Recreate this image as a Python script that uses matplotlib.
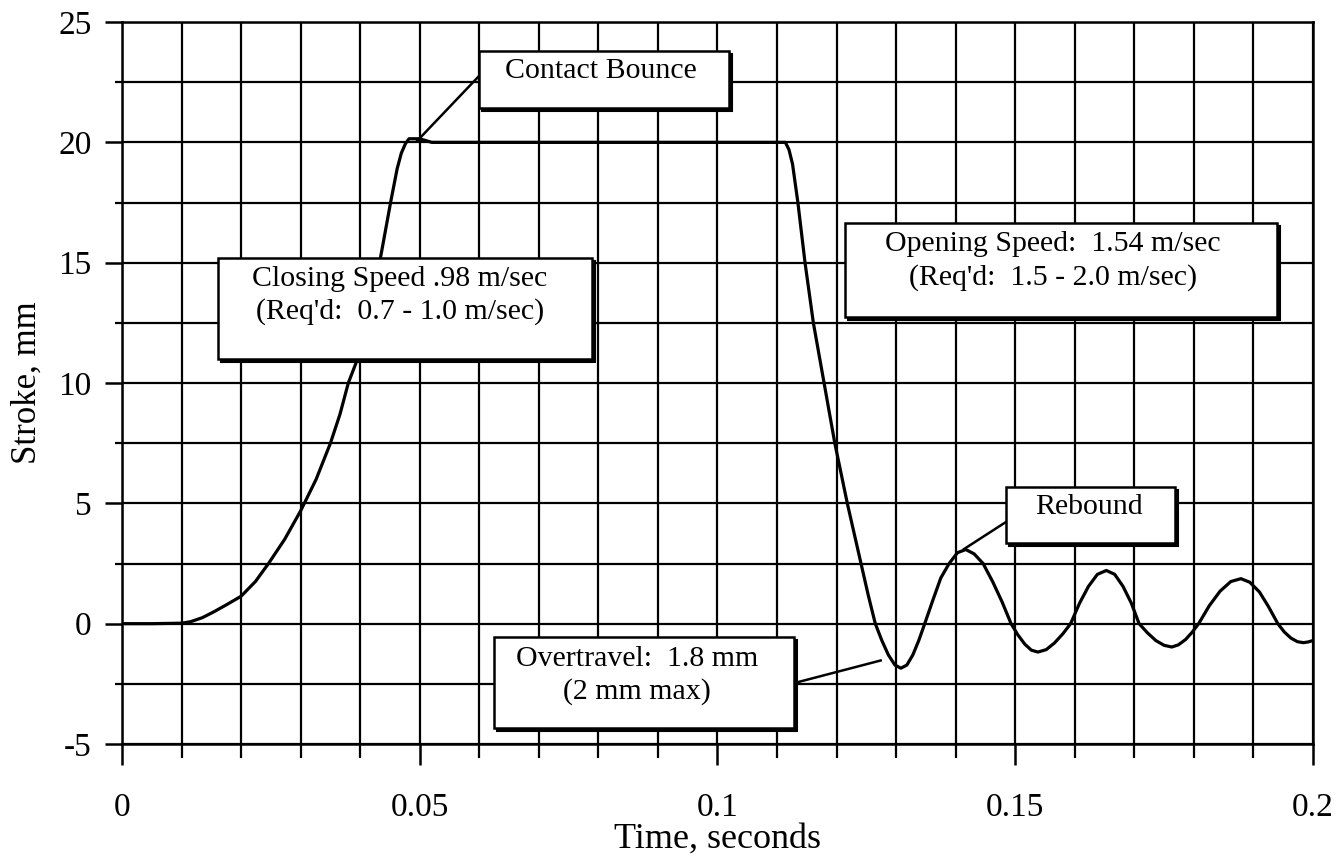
import numpy as np
import matplotlib.pyplot as plt
from matplotlib.patches import Rectangle
from matplotlib import transforms

# Curso do contato (leitura do grafico original)
time_s = [0.000, 0.005, 0.010, 0.0115, 0.0135, 0.0154, 0.0175, 0.020, 0.0224, 0.0246,
          0.0273, 0.030, 0.0326, 0.035, 0.0366, 0.038, 0.0394, 0.0407, 0.0420, 0.0434,
          0.0451, 0.0462, 0.0469, 0.0476, 0.0482, 0.0500, 0.0520,
          0.1103, 0.1114, 0.1120, 0.1126, 0.1135, 0.1147, 0.1161, 0.1179, 0.1197, 0.1218,
          0.1241, 0.1253, 0.1265,
          0.1276, 0.1287, 0.1298, 0.1308, 0.1318, 0.1328, 0.1338, 0.1348,
          0.1362, 0.1375, 0.1389, 0.1403, 0.1417, 0.1431, 0.1446, 0.1462, 0.1478, 0.1493,
          0.1504, 0.1516, 0.1527, 0.1538, 0.1552, 0.1566, 0.1580, 0.1593,
          0.1608, 0.1623, 0.1638, 0.1653, 0.1667, 0.1681, 0.1695, 0.1708,
          0.1722, 0.1736, 0.1750, 0.1763, 0.1774, 0.1786, 0.1797, 0.1808,
          0.1826, 0.1844, 0.1862, 0.1879, 0.1894, 0.1910, 0.1925, 0.1941,
          0.1952, 0.1963, 0.1974, 0.1984, 0.1992, 0.2000]
stroke_mm = [0.00, 0.00, 0.02, 0.08, 0.25, 0.49, 0.78, 1.14, 1.75, 2.50,
             3.50, 4.69, 6.00, 7.50, 8.70, 10.00, 10.90, 12.30, 13.70, 15.20,
             17.50, 18.90, 19.55, 19.95, 20.15, 20.15, 20.00,
             20.00, 20.00, 19.70, 19.10, 17.50, 15.00, 12.50, 10.00, 7.50, 5.00,
             2.50, 1.20, 0.00,
             -0.70, -1.30, -1.72, -1.85, -1.72, -1.30, -0.70, 0.00,
             1.00, 1.90, 2.50, 2.95, 3.08, 2.90, 2.50, 1.75, 0.90, 0.00,
             -0.45, -0.85, -1.10, -1.18, -1.08, -0.80, -0.42, 0.00,
             0.85, 1.55, 2.05, 2.21, 2.05, 1.55, 0.85, 0.00,
             -0.38, -0.70, -0.90, -0.97, -0.88, -0.66, -0.36, 0.00,
             0.75, 1.35, 1.75, 1.87, 1.72, 1.32, 0.72, 0.00,
             -0.35, -0.60, -0.75, -0.79, -0.76, -0.70]

x_ticks = [0, 0.05, 0.1, 0.15, 0.2]
x_tick_labels = ['0', '0.05', '0.1', '0.15', '0.2']
y_ticks = [-5, 0, 5, 10, 15, 20, 25]
y_tick_labels = ['-5', '0', '5', '10', '15', '20', '25']

# Caixas de texto: texto, (x0, x1, y0, y1), centro do texto, linha de chamada
notes = [
    ('Contact Bounce', (0.0600, 0.1020, 21.41, 23.81), (0.0804, 22.96),
     ((0.0600, 22.77), (0.0496, 20.07))),
    ("Closing Speed .98 m/sec\n(Req'd:  0.7 - 1.0 m/sec)", (0.0162, 0.0790, 11.01, 15.18),
     (0.0467, 13.62), None),
    ("Opening Speed:  1.54 m/sec\n(Req'd:  1.5 - 2.0 m/sec)", (0.1214, 0.1939, 12.75, 16.66),
     (0.1563, 15.07), None),
    ('Rebound', (0.1485, 0.1768, 3.35, 5.66), (0.1624, 4.83),
     ((0.1486, 4.25), (0.1414, 3.10))),
    ('Overtravel:  1.8 mm\n(2 mm max)', (0.0624, 0.1128, -4.32, -0.55), (0.0865, -2.16),
     ((0.1124, -2.50), (0.1274, -1.53))),
]

plt.rcParams['font.family'] = ['Liberation Serif', 'DejaVu Serif']

fig = plt.figure(figsize=(13.35, 8.61), dpi=100)
ax = fig.add_axes([0.0914, 0.1359, 0.8921, 0.8385])

ax.plot(time_s, stroke_mm, color='black', lw=2.3, zorder=3)

ax.set_xlim(0, 0.2)
ax.set_ylim(-5, 25)
ax.set_xticks(x_ticks)
ax.set_xticklabels(x_tick_labels)
ax.set_xticks(np.arange(0, 0.2001, 0.01), minor=True)
ax.set_yticks(y_ticks)
ax.set_yticklabels(y_tick_labels)
ax.set_yticks(np.arange(-5, 25.1, 2.5), minor=True)

ax.grid(which='both', color='black', lw=1.6)
ax.set_axisbelow(True)
for s in ax.spines.values():
    s.set_linewidth(1.8)

ax.tick_params(axis='x', which='major', direction='out', length=15, width=1.8,
               pad=20, labelsize=24)
ax.tick_params(axis='x', which='minor', direction='out', length=10, width=1.6)
ax.tick_params(axis='y', which='major', direction='out', length=12, width=1.8,
               pad=10, labelsize=24)
ax.tick_params(axis='y', which='minor', direction='out', length=5, width=1.6)

ax.set_xlabel('Time, seconds', fontsize=26, labelpad=0)
ax.set_ylabel('Stroke, mm', fontsize=25, labelpad=10)

shadow = transforms.offset_copy(ax.transData, fig=fig, x=3, y=-3, units='dots')
for text, (x0, x1, y0, y1), (tx, ty), leader in notes:
    if leader is not None:
        (ax_, ay_), (bx_, by_) = leader
        ax.plot([ax_, bx_], [ay_, by_], color='black', lw=1.8, zorder=4)
    ax.add_patch(Rectangle((x0, y0), x1 - x0, y1 - y0, facecolor='black',
                           edgecolor='black', lw=1.5, transform=shadow, zorder=5))
    ax.add_patch(Rectangle((x0, y0), x1 - x0, y1 - y0, facecolor='white',
                           edgecolor='black', lw=1.8, zorder=6))
    ax.text(tx, ty, text, ha='center', va='center', multialignment='center',
            fontsize=21.5, linespacing=1.3, zorder=7)

fig.savefig('out.png', dpi=100)
